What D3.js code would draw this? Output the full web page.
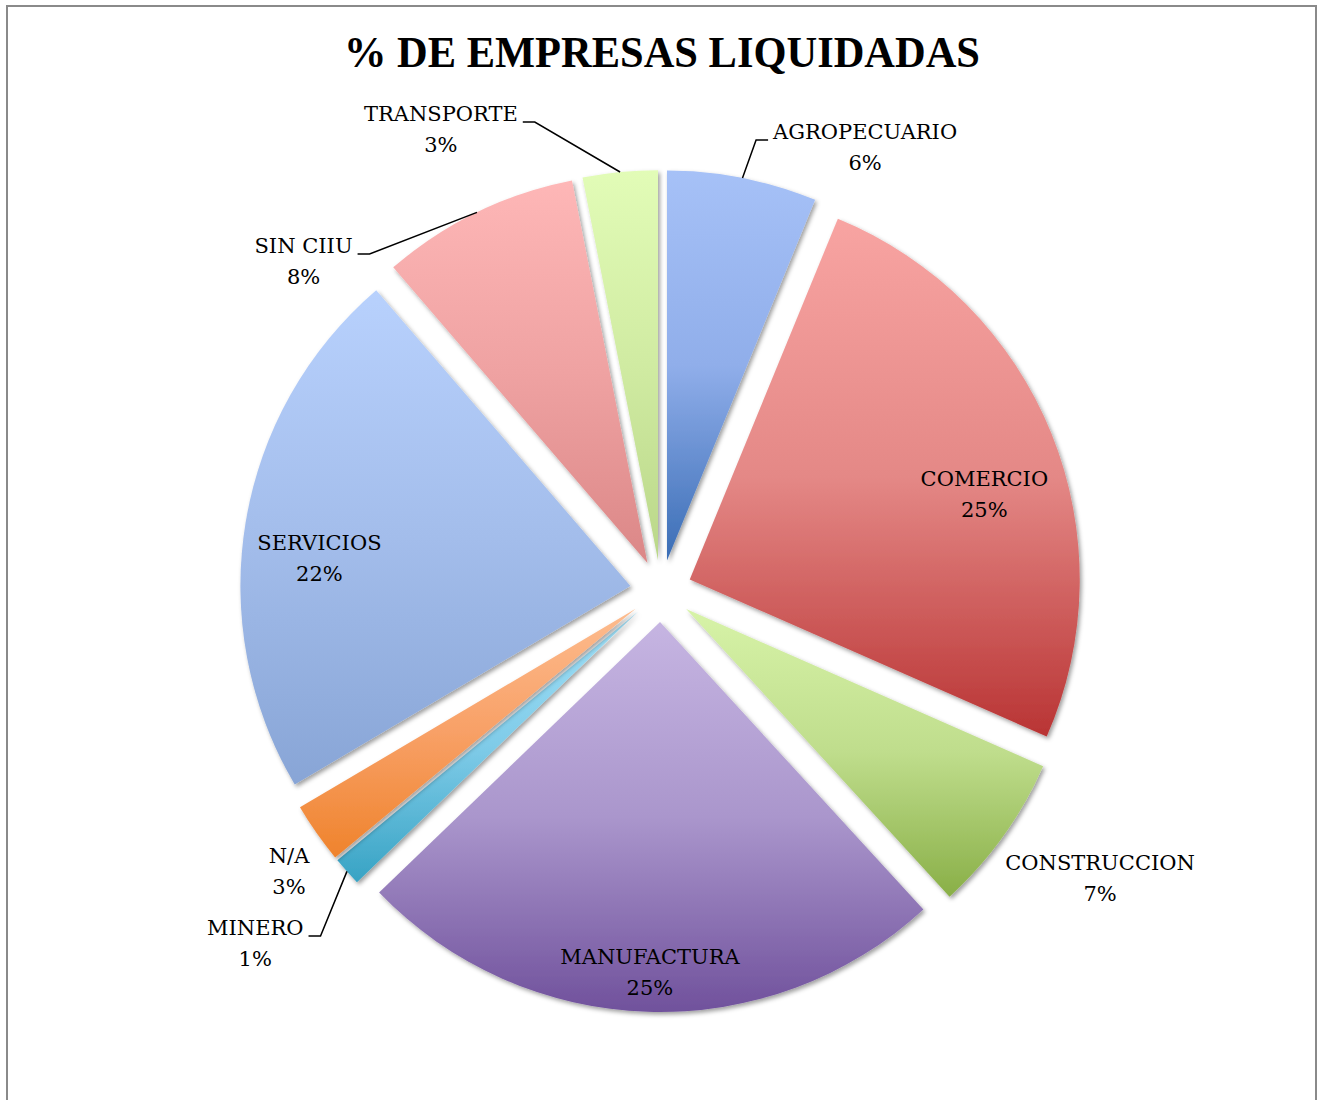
<!DOCTYPE html>
<html>
<head>
<meta charset="utf-8">
<script src="https://cdn.jsdelivr.net/npm/d3@7"></script>
<style>
  html, body { margin: 0; padding: 0; background: #ffffff; }
  svg { display: block; }
</style>
</head>
<body>
<svg id="chart" width="1321" height="1100"></svg>
<script>
// ---- data ----
const categories = ["AGROPECUARIO", "COMERCIO", "CONSTRUCCION", "MANUFACTURA", "MINERO", "N/A", "SERVICIOS", "SIN CIIU", "TRANSPORTE"];
const values = [6.2, 25.4, 6.6, 24.6, 1.2, 2.5, 22.2, 8.2, 3.1];
const title = "% DE EMPRESAS LIQUIDADAS";

// ---- styles ----
const colorsTop = ["#A6C1F7", "#F8A4A2", "#D7F3A8", "#C6B5E2", "#A2E1F8", "#FDBC8F", "#B8D1FD", "#FEB7B7", "#E2FCB7"];
const colorsMid = ["#90AEEA", "#E48886", "#BFDD8C", "#AA96CC", "#7FCBE8", "#F8A066", "#A3BDEB", "#EFA2A2", "#D0EBA2"];
const colorsBottom = ["#3A6DB5", "#B93434", "#89AF47", "#70519C", "#37A3C4", "#EF832C", "#88A5D6", "#DB8787", "#BAD789"];

// label placement (polar, relative to pie centre): angle in degrees clockwise from 12 o'clock, distance in px
const labelAngle = [24.3, 72.0, 122.4, 181.7, 229.7, 233.8, 276.8, 313.4, 334.9];
const labelDist  = [496, 340, 520, 373, 532, 461, 344, 492, 519];
const hasLeader  = [true, false, false, false, true, false, false, true, true];

const W = 1321, H = 1100;
const cx = 661, cy = 591, R = 390, explode = 31;
const labelFont = "'DejaVu Serif', 'Liberation Serif', serif";
const labelSize = 21;

const svg = d3.select("#chart");
const defs = svg.append("defs");

// drop shadow
const filt = defs.append("filter").attr("id", "shadow")
  .attr("x", "-10%").attr("y", "-10%").attr("width", "130%").attr("height", "130%");
filt.append("feDropShadow").attr("dx", 2).attr("dy", 2.5).attr("stdDeviation", 2.2)
  .attr("flood-color", "#000").attr("flood-opacity", 0.38);

categories.forEach((c, i) => {
  const g = defs.append("linearGradient").attr("id", "grad" + i)
    .attr("x1", 0).attr("y1", 0).attr("x2", 0).attr("y2", 1);
  g.append("stop").attr("offset", "0%").attr("stop-color", colorsTop[i]);
  g.append("stop").attr("offset", "50%").attr("stop-color", colorsMid[i]);
  g.append("stop").attr("offset", "100%").attr("stop-color", colorsBottom[i]);
});

// frame
svg.append("path")
  .attr("d", `M7,${H + 5} V6 H1316 V${H + 5}`)
  .attr("fill", "none").attr("stroke", "#8a8a8a").attr("stroke-width", 2);

// title
const titleEl = svg.append("text")
  .attr("x", 662).attr("y", 67)
  .attr("text-anchor", "middle")
  .attr("font-family", "'Liberation Serif', 'Times New Roman', serif")
  .attr("font-weight", "bold")
  .attr("font-size", 44)
  .attr("fill", "#000")
  .text(title);
titleEl.attr("textLength", 636).attr("lengthAdjust", "spacingAndGlyphs");

const total = d3.sum(values);
const data = categories.map((c, i) => ({ name: c, value: values[i], i }));
const pie = d3.pie().sort(null).value(d => d.value);
const arcs = pie(data);
const arcGen = d3.arc().innerRadius(0).outerRadius(R);

const root = svg.append("g").attr("transform", `translate(${cx},${cy})`);

arcs.forEach(a => {
  const mid = (a.startAngle + a.endAngle) / 2;
  a.ox = explode * Math.sin(mid);
  a.oy = -explode * Math.cos(mid);
  a.mid = mid;
});

root.selectAll("path.slice")
  .data(arcs)
  .join("path")
  .attr("class", "slice")
  .attr("transform", d => `translate(${d.ox},${d.oy})`)
  .attr("d", arcGen)
  .attr("fill", d => `url(#grad${d.data.i})`)
  .attr("filter", "url(#shadow)");

// labels
const lblG = root.append("g");
arcs.forEach(a => {
  const i = a.data.i;
  const ang = labelAngle[i] * Math.PI / 180;
  const lx = labelDist[i] * Math.sin(ang);
  const ly = -labelDist[i] * Math.cos(ang);
  const pct = Math.round(a.data.value / total * 100) + "%";
  const t = lblG.append("text")
    .attr("text-anchor", "middle")
    .attr("font-family", labelFont)
    .attr("font-size", labelSize)
    .attr("fill", "#000");
  const t1 = t.append("tspan").attr("x", lx).attr("y", ly).text(a.data.name);
  t.append("tspan").attr("x", lx).attr("y", ly + 31).text(pct);

  if (hasLeader[i]) {
    const w = t1.node().getComputedTextLength();
    const sx = a.ox + R * Math.sin(a.mid);
    const sy = a.oy - R * Math.cos(a.mid);
    const rightSide = sx > lx; // slice point lies to the right of the label
    const edge = rightSide ? lx + w / 2 : lx - w / 2;
    const dir = rightSide ? 1 : -1;
    const elbowX = edge + dir * 17;
    const endX = edge + dir * 5;
    const yy = ly + 1;
    lblG.append("path")
      .attr("d", `M${sx},${sy} L${elbowX},${yy} L${endX},${yy}`)
      .attr("fill", "none").attr("stroke", "#000").attr("stroke-width", 1.5);
  }
});
</script>
</body>
</html>
